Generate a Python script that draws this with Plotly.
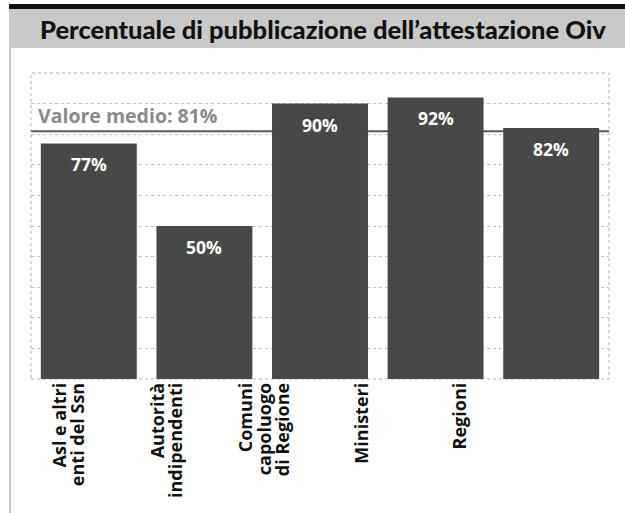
import plotly.graph_objects as go

categories = ["Asl e altri<br>enti del Ssn", "Autorità<br>indipendenti",
              "Comuni<br>capoluogo<br>di Regione", "Ministeri", "Regioni"]
values = [77, 50, 90, 92, 82]
mean_value = 81
title_text = "Percentuale di pubblicazione dell’attestazione Oiv"
mean_label = "Valore medio: 81%"

W, H = 625, 513
ML, MR, MT, MB = 20, 16, 73, 134
PW, PH = W - ML - MR, H - MT - MB
def px(x):
    return (x - ML) / PW
def py(y):
    return (H - MB - y) / PH

TFONT = "Lato"
FONT = "Open Sans"
bar_color = "#484848"

fig = go.Figure()
fig.add_trace(go.Bar(x=list(range(len(values))), y=values, marker_color=bar_color,
                     marker_line_width=0, hoverinfo="skip", showlegend=False))
fig.add_trace(go.Scatter(x=list(range(len(categories))), y=[None]*len(categories),
                         xaxis="x2", yaxis="y2", mode="none", hoverinfo="skip", showlegend=False))

# value labels inside the bars
for i, v in enumerate(values):
    fig.add_annotation(x=i, y=v, xref="x", yref="y", text=f"<b>{v}%</b>",
                       showarrow=False, yanchor="middle", yshift=-21,
                       font=dict(family=FONT, size=17.5, color="white"))

# mean line & label
fig.add_shape(type="line", xref="paper", yref="y", x0=px(31), x1=px(609),
              y0=mean_value, y1=mean_value, line=dict(color="#5a5a5a", width=2), layer="below")
fig.add_annotation(xref="paper", yref="y", x=px(36), y=mean_value, xanchor="left",
                   yanchor="bottom", yshift=0, text=f"<b>{mean_label}</b>", showarrow=False,
                   font=dict(family=FONT, size=19.5, color="#8a8a8a"))

# plot border
fig.add_shape(type="rect", xref="paper", yref="paper", x0=px(31), x1=px(609), y0=0, y1=1,
              line=dict(color="#b0b0b0", width=1, dash="dot"), layer="below")

# title band
fig.add_shape(type="rect", xref="paper", yref="paper", x0=px(9), x1=px(626), y0=py(48), y1=py(9),
              fillcolor="#c9c9c9", line_width=0, layer="below")
fig.add_shape(type="rect", xref="paper", yref="paper", x0=px(9), x1=px(626), y0=py(9), y1=py(4),
              fillcolor="#111111", line_width=0, layer="below")
fig.add_shape(type="line", xref="paper", yref="paper", x0=px(10), x1=px(10), y0=py(48), y1=py(513),
              line=dict(color="#8c8c8c", width=1))
fig.add_annotation(xref="paper", yref="paper", x=px(38), y=py(29), xanchor="left",
                   yanchor="middle", text=title_text, showarrow=False,
                   font=dict(family=TFONT, size=25.5, color="#111111", weight=900))

tick_labels = ["<br>".join(f'<span style="font-size:18px">{part}</span>'
                           for part in c.split("<br>")) for c in categories]

fig.update_layout(
    width=W, height=H, margin=dict(l=ML, r=MR, t=MT, b=MB, pad=0),
    paper_bgcolor="white", plot_bgcolor="rgba(0,0,0,0)", bargap=0.17,
    xaxis=dict(domain=[px(31), px(609)], range=[-0.5, len(values) - 0.5],
               showticklabels=False, showgrid=False, zeroline=False, showline=False, ticks=""),
    yaxis=dict(range=[0, 100], dtick=10, showticklabels=False, showgrid=True,
               gridcolor="#c4c4c4", griddash="dot", gridwidth=1, zeroline=False),
    xaxis2=dict(domain=[px(22), px(510)], range=[-0.5, len(categories) - 0.5],
                anchor="y2", tickmode="array", tickvals=list(range(len(categories))),
                ticktext=tick_labels, tickangle=-90,
                showgrid=False, zeroline=False, showline=False, ticks="",
                tickfont=dict(family=FONT, size=14, color="#111111", weight=700)),
    yaxis2=dict(domain=[0, 1], range=[0, 1], anchor="x2", showgrid=False,
                showticklabels=False, zeroline=False, showline=False, ticks=""),
)

fig.write_html("out.html")
